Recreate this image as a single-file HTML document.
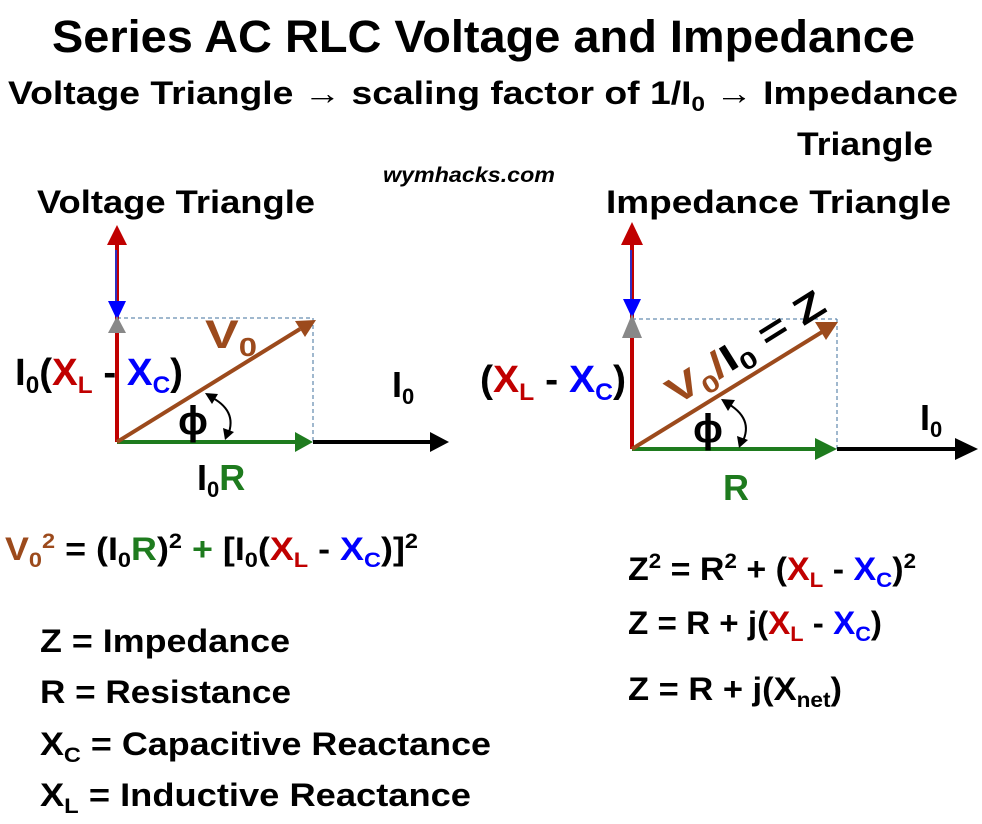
<!DOCTYPE html>
<html><head><meta charset="utf-8"><style>
html,body{margin:0;padding:0;background:#fff}
svg{display:block}
text{font-family:"Liberation Sans",sans-serif;font-weight:bold}
</style></head><body>
<svg width="982" height="824" viewBox="0 0 982 824" xmlns="http://www.w3.org/2000/svg">
<rect width="982" height="824" fill="#fff"/>
<!-- headings -->
<text x="52" y="52" font-size="45" textLength="863" lengthAdjust="spacingAndGlyphs">Series AC RLC Voltage and Impedance</text>
<text x="8" y="104" font-size="32" textLength="950" lengthAdjust="spacingAndGlyphs">Voltage Triangle  → scaling factor of 1/I<tspan font-size="21" dy="7">0</tspan><tspan dy="-7"> →  Impedance</tspan></text>
<text x="797" y="155" font-size="32" textLength="136" lengthAdjust="spacingAndGlyphs">Triangle</text>
<text x="383" y="182" font-size="21" font-style="italic" textLength="172" lengthAdjust="spacingAndGlyphs">wymhacks.com</text>
<text x="37" y="213" font-size="32" textLength="278" lengthAdjust="spacingAndGlyphs">Voltage Triangle</text>
<text x="606" y="213" font-size="32" textLength="345" lengthAdjust="spacingAndGlyphs">Impedance  Triangle</text>

<!-- LEFT DIAGRAM -->
<g>
<line x1="117" y1="318" x2="313" y2="318" stroke="#41719c" stroke-width="1" stroke-dasharray="4,3"/>
<line x1="313" y1="318" x2="313" y2="442" stroke="#41719c" stroke-width="1" stroke-dasharray="4,3"/>
<line x1="117" y1="442" x2="117" y2="240" stroke="#c00000" stroke-width="4"/>
<line x1="116" y1="250" x2="116" y2="305" stroke="#2f2fbf" stroke-width="2"/>
<polygon points="117,225 107,245 127,245" fill="#c00000"/>
<polygon points="117,320 108,301 126,301" fill="#0000ff"/>
<polygon points="117,316 108,333 126,333" fill="#888"/>
<line x1="313" y1="442" x2="432" y2="442" stroke="#000" stroke-width="4"/>
<polygon points="449,442 430,432 430,452" fill="#000"/>
<line x1="117" y1="442" x2="298" y2="442" stroke="#1e7b1e" stroke-width="4"/>
<polygon points="313,442 295,432 295,452" fill="#1e7b1e"/>
<line x1="117" y1="442" x2="300" y2="329" stroke="#9c4a1c" stroke-width="4"/>
<polygon points="316,320 295,321 305,337" fill="#9c4a1c"/>
<path d="M209,396 Q238,410 228,435" fill="none" stroke="#000" stroke-width="2"/>
<polygon points="205,393 218,394 212,404" fill="#000"/>
<polygon points="225,440 223,428 234,432" fill="#000"/>
<text x="15" y="385" font-size="38" textLength="168" lengthAdjust="spacingAndGlyphs">I<tspan font-size="24" dy="8">0</tspan><tspan dy="-8">(</tspan><tspan fill="#c00000">X</tspan><tspan fill="#c00000" font-size="24" dy="8">L</tspan><tspan dy="-8"> - </tspan><tspan fill="#0000ff">X</tspan><tspan fill="#0000ff" font-size="24" dy="8">C</tspan><tspan dy="-8">)</tspan></text>
<text x="205" y="348" font-size="40" fill="#9c4a1c" textLength="52" lengthAdjust="spacingAndGlyphs">V<tspan font-size="26" dy="8">0</tspan></text>
<text x="178" y="434" font-size="40" font-weight="normal">ϕ</text>
<text x="392" y="397" font-size="36">I<tspan font-size="22" dy="7">0</tspan></text>
<text x="197" y="490" font-size="36">I<tspan font-size="22" dy="7">0</tspan><tspan dy="-7" fill="#1e7b1e">R</tspan></text>
</g>

<!-- RIGHT DIAGRAM -->
<g>
<line x1="632" y1="319" x2="837" y2="319" stroke="#41719c" stroke-width="1" stroke-dasharray="4,3"/>
<line x1="837" y1="319" x2="837" y2="449" stroke="#41719c" stroke-width="1" stroke-dasharray="4,3"/>
<line x1="632" y1="449" x2="632" y2="238" stroke="#c00000" stroke-width="4"/>
<line x1="631" y1="250" x2="631" y2="305" stroke="#2f2fbf" stroke-width="2"/>
<polygon points="632,222 621,245 643,245" fill="#c00000"/>
<polygon points="632,318 623,299 641,299" fill="#0000ff"/>
<polygon points="632,314 622,338 642,338" fill="#888"/>
<line x1="837" y1="449" x2="962" y2="449" stroke="#000" stroke-width="4"/>
<polygon points="978,449 955,438 955,460" fill="#000"/>
<line x1="632" y1="449" x2="820" y2="449" stroke="#1e7b1e" stroke-width="4"/>
<polygon points="837,449 815,438 815,460" fill="#1e7b1e"/>
<line x1="632" y1="449" x2="822" y2="332" stroke="#9c4a1c" stroke-width="4"/>
<polygon points="838,322 815,322 826,340" fill="#9c4a1c"/>
<path d="M725,402 Q755,418 742,443" fill="none" stroke="#000" stroke-width="2"/>
<polygon points="721,399 735,400 728,411" fill="#000"/>
<polygon points="739,448 737,436 748,440" fill="#000"/>
<text x="480" y="392" font-size="38" textLength="146" lengthAdjust="spacingAndGlyphs">(<tspan fill="#c00000">X</tspan><tspan fill="#c00000" font-size="24" dy="8">L</tspan><tspan dy="-8"> - </tspan><tspan fill="#0000ff">X</tspan><tspan fill="#0000ff" font-size="24" dy="8">C</tspan><tspan dy="-8">)</tspan></text>
<text transform="translate(676,406) rotate(-32)" font-size="38" textLength="180" lengthAdjust="spacingAndGlyphs"><tspan fill="#9c4a1c">V</tspan><tspan fill="#9c4a1c" font-size="24" dy="8">0</tspan><tspan fill="#9c4a1c" dy="-8">/</tspan>I<tspan font-size="24" dy="8">0</tspan><tspan dy="-8"> = Z</tspan></text>
<text x="693" y="442" font-size="40" font-weight="normal">ϕ</text>
<text x="920" y="430" font-size="36">I<tspan font-size="22" dy="7">0</tspan></text>
<text x="723" y="500" font-size="36" fill="#1e7b1e">R</text>
</g>

<!-- equations -->
<text x="5" y="560" font-size="32" textLength="413" lengthAdjust="spacingAndGlyphs"><tspan fill="#9c4a1c">V</tspan><tspan fill="#9c4a1c" font-size="21" dy="7">0</tspan><tspan font-size="21" dy="-19" fill="#9c4a1c">2</tspan><tspan dy="12"> = (I</tspan><tspan font-size="21" dy="7">0</tspan><tspan dy="-7" fill="#1e7b1e">R</tspan><tspan>)</tspan><tspan font-size="21" dy="-12">2</tspan><tspan dy="12" fill="#1e7b1e"> + </tspan><tspan>[I</tspan><tspan font-size="21" dy="7">0</tspan><tspan dy="-7">(</tspan><tspan fill="#c00000">X</tspan><tspan fill="#c00000" font-size="21" dy="7">L</tspan><tspan dy="-7"> - </tspan><tspan fill="#0000ff">X</tspan><tspan fill="#0000ff" font-size="21" dy="7">C</tspan><tspan dy="-7">)]</tspan><tspan font-size="21" dy="-12">2</tspan></text>

<text x="40" y="652" font-size="32" textLength="250" lengthAdjust="spacingAndGlyphs">Z = Impedance</text>
<text x="40" y="703" font-size="32" textLength="251" lengthAdjust="spacingAndGlyphs">R = Resistance</text>
<text x="40" y="755" font-size="32" textLength="451" lengthAdjust="spacingAndGlyphs">X<tspan font-size="21" dy="7">C</tspan><tspan dy="-7"> = Capacitive Reactance</tspan></text>
<text x="40" y="806" font-size="32" textLength="431" lengthAdjust="spacingAndGlyphs">X<tspan font-size="21" dy="7">L</tspan><tspan dy="-7"> = Inductive  Reactance</tspan></text>

<text x="628" y="580" font-size="32" textLength="288" lengthAdjust="spacingAndGlyphs">Z<tspan font-size="21" dy="-12">2</tspan><tspan dy="12"> = R</tspan><tspan font-size="21" dy="-12">2</tspan><tspan dy="12"> + (</tspan><tspan fill="#c00000">X</tspan><tspan fill="#c00000" font-size="21" dy="7">L</tspan><tspan dy="-7"> - </tspan><tspan fill="#0000ff">X</tspan><tspan fill="#0000ff" font-size="21" dy="7">C</tspan><tspan dy="-7">)</tspan><tspan font-size="21" dy="-12">2</tspan></text>
<text x="628" y="634" font-size="32" textLength="254" lengthAdjust="spacingAndGlyphs">Z = R + j(<tspan fill="#c00000">X</tspan><tspan fill="#c00000" font-size="21" dy="7">L</tspan><tspan dy="-7"> - </tspan><tspan fill="#0000ff">X</tspan><tspan fill="#0000ff" font-size="21" dy="7">C</tspan><tspan dy="-7">)</tspan></text>
<text x="628" y="700" font-size="32" textLength="214" lengthAdjust="spacingAndGlyphs">Z = R + j(X<tspan font-size="21" dy="7">net</tspan><tspan dy="-7">)</tspan></text>
</svg>
</body></html>
